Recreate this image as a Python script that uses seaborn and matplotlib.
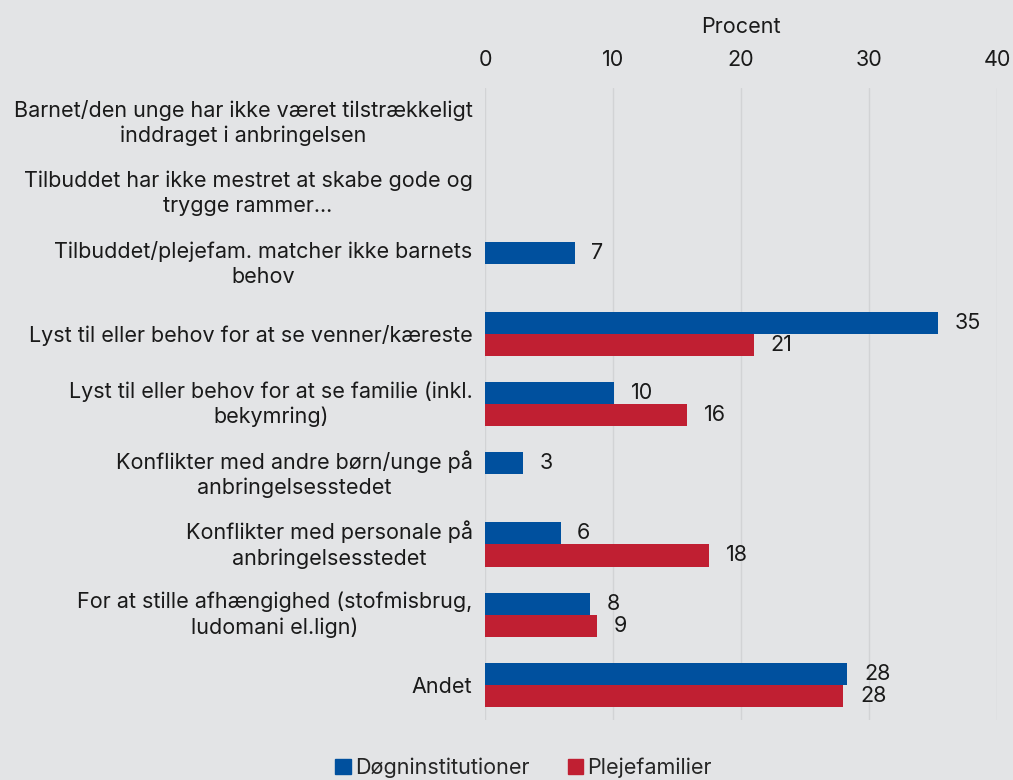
import numpy as np
import pandas as pd
import matplotlib
matplotlib.use('Agg')
import matplotlib.pyplot as plt
import seaborn as sns

categories = [
    'Barnet/den unge har ikke været tilstrækkeligt\ninddraget i anbringelsen',
    'Tilbuddet har ikke mestret at skabe gode og\ntrygge rammer...',
    'Tilbuddet/plejefam. matcher ikke barnets\nbehov',
    'Lyst til eller behov for at se venner/kæreste',
    'Lyst til eller behov for at se familie (inkl.\nbekymring)',
    'Konflikter med andre børn/unge på\nanbringelsesstedet',
    'Konflikter med personale på\nanbringelsesstedet',
    'For at stille afhængighed (stofmisbrug,\nludomani el.lign)',
    'Andet',
]
doegn = [np.nan, np.nan, 7.0, 35.4, 10.1, 3.0, 5.9, 8.2, 28.3]
pleje = [np.nan, np.nan, np.nan, 21.0, 15.8, np.nan, 17.5, 8.75, 28.0]
series = ['Døgninstitutioner', 'Plejefamilier']
colors = ['#00509e', '#c01f32']
bg = '#e3e4e6'

df = pd.DataFrame({
    'Kategori': categories * 2,
    'Procent': doegn + pleje,
    'Gruppe': [series[0]] * len(categories) + [series[1]] * len(categories),
})

sns.set_theme(style='white')
plt.rcParams['font.family'] = ['Inter', 'DejaVu Sans']
fs = 15.5

fig = plt.figure(figsize=(10.13, 7.8), dpi=100, facecolor=bg)
ax = fig.add_axes([0.4788, 0.077, 0.5054, 0.81])
ax.set_facecolor(bg)

sns.barplot(data=df, y='Kategori', x='Procent', hue='Gruppe', orient='h',
            palette=colors, saturation=1, width=0.63, linewidth=0,
            ax=ax, legend=False, errorbar=None,
            order=categories, hue_order=series)

for cont in ax.containers:
    labels = ['' if np.isnan(v) else f'{v:.0f}' for v in cont.datavalues]
    ax.bar_label(cont, labels=labels, padding=12, fontsize=fs, color='#1a1a1a')

ax.set_xlim(0, 40)
ax.set_xticks([0, 10, 20, 30, 40])
ax.xaxis.tick_top()
ax.xaxis.set_label_position('top')
ax.set_xlabel('Procent', fontsize=fs, labelpad=12, color='#1a1a1a')
ax.set_ylabel('')
ax.tick_params(axis='x', length=0, labelsize=fs, pad=13, colors='#1a1a1a')
ax.tick_params(axis='y', length=0, labelsize=fs, pad=9, colors='#1a1a1a')
for lab in ax.get_yticklabels():
    lab.set_multialignment('center')
    lab.set_linespacing(1.3)
    if '\n' in lab.get_text():
        lab.set_verticalalignment('center')

ax.grid(axis='x', color='#d2d3d5', linewidth=1)
ax.set_axisbelow(True)
for s in ax.spines.values():
    s.set_visible(False)

handles = [plt.Rectangle((0, 0), 1, 1, color=c) for c in colors]
fig.legend(handles, series, loc='center', bbox_to_anchor=(0.517, 0.016), ncol=2,
           frameon=False, fontsize=fs, handlelength=0.7, handleheight=0.7,
           handletextpad=0.2, columnspacing=1.8, borderpad=0)

fig.savefig('out.png', dpi=100, facecolor=bg)
